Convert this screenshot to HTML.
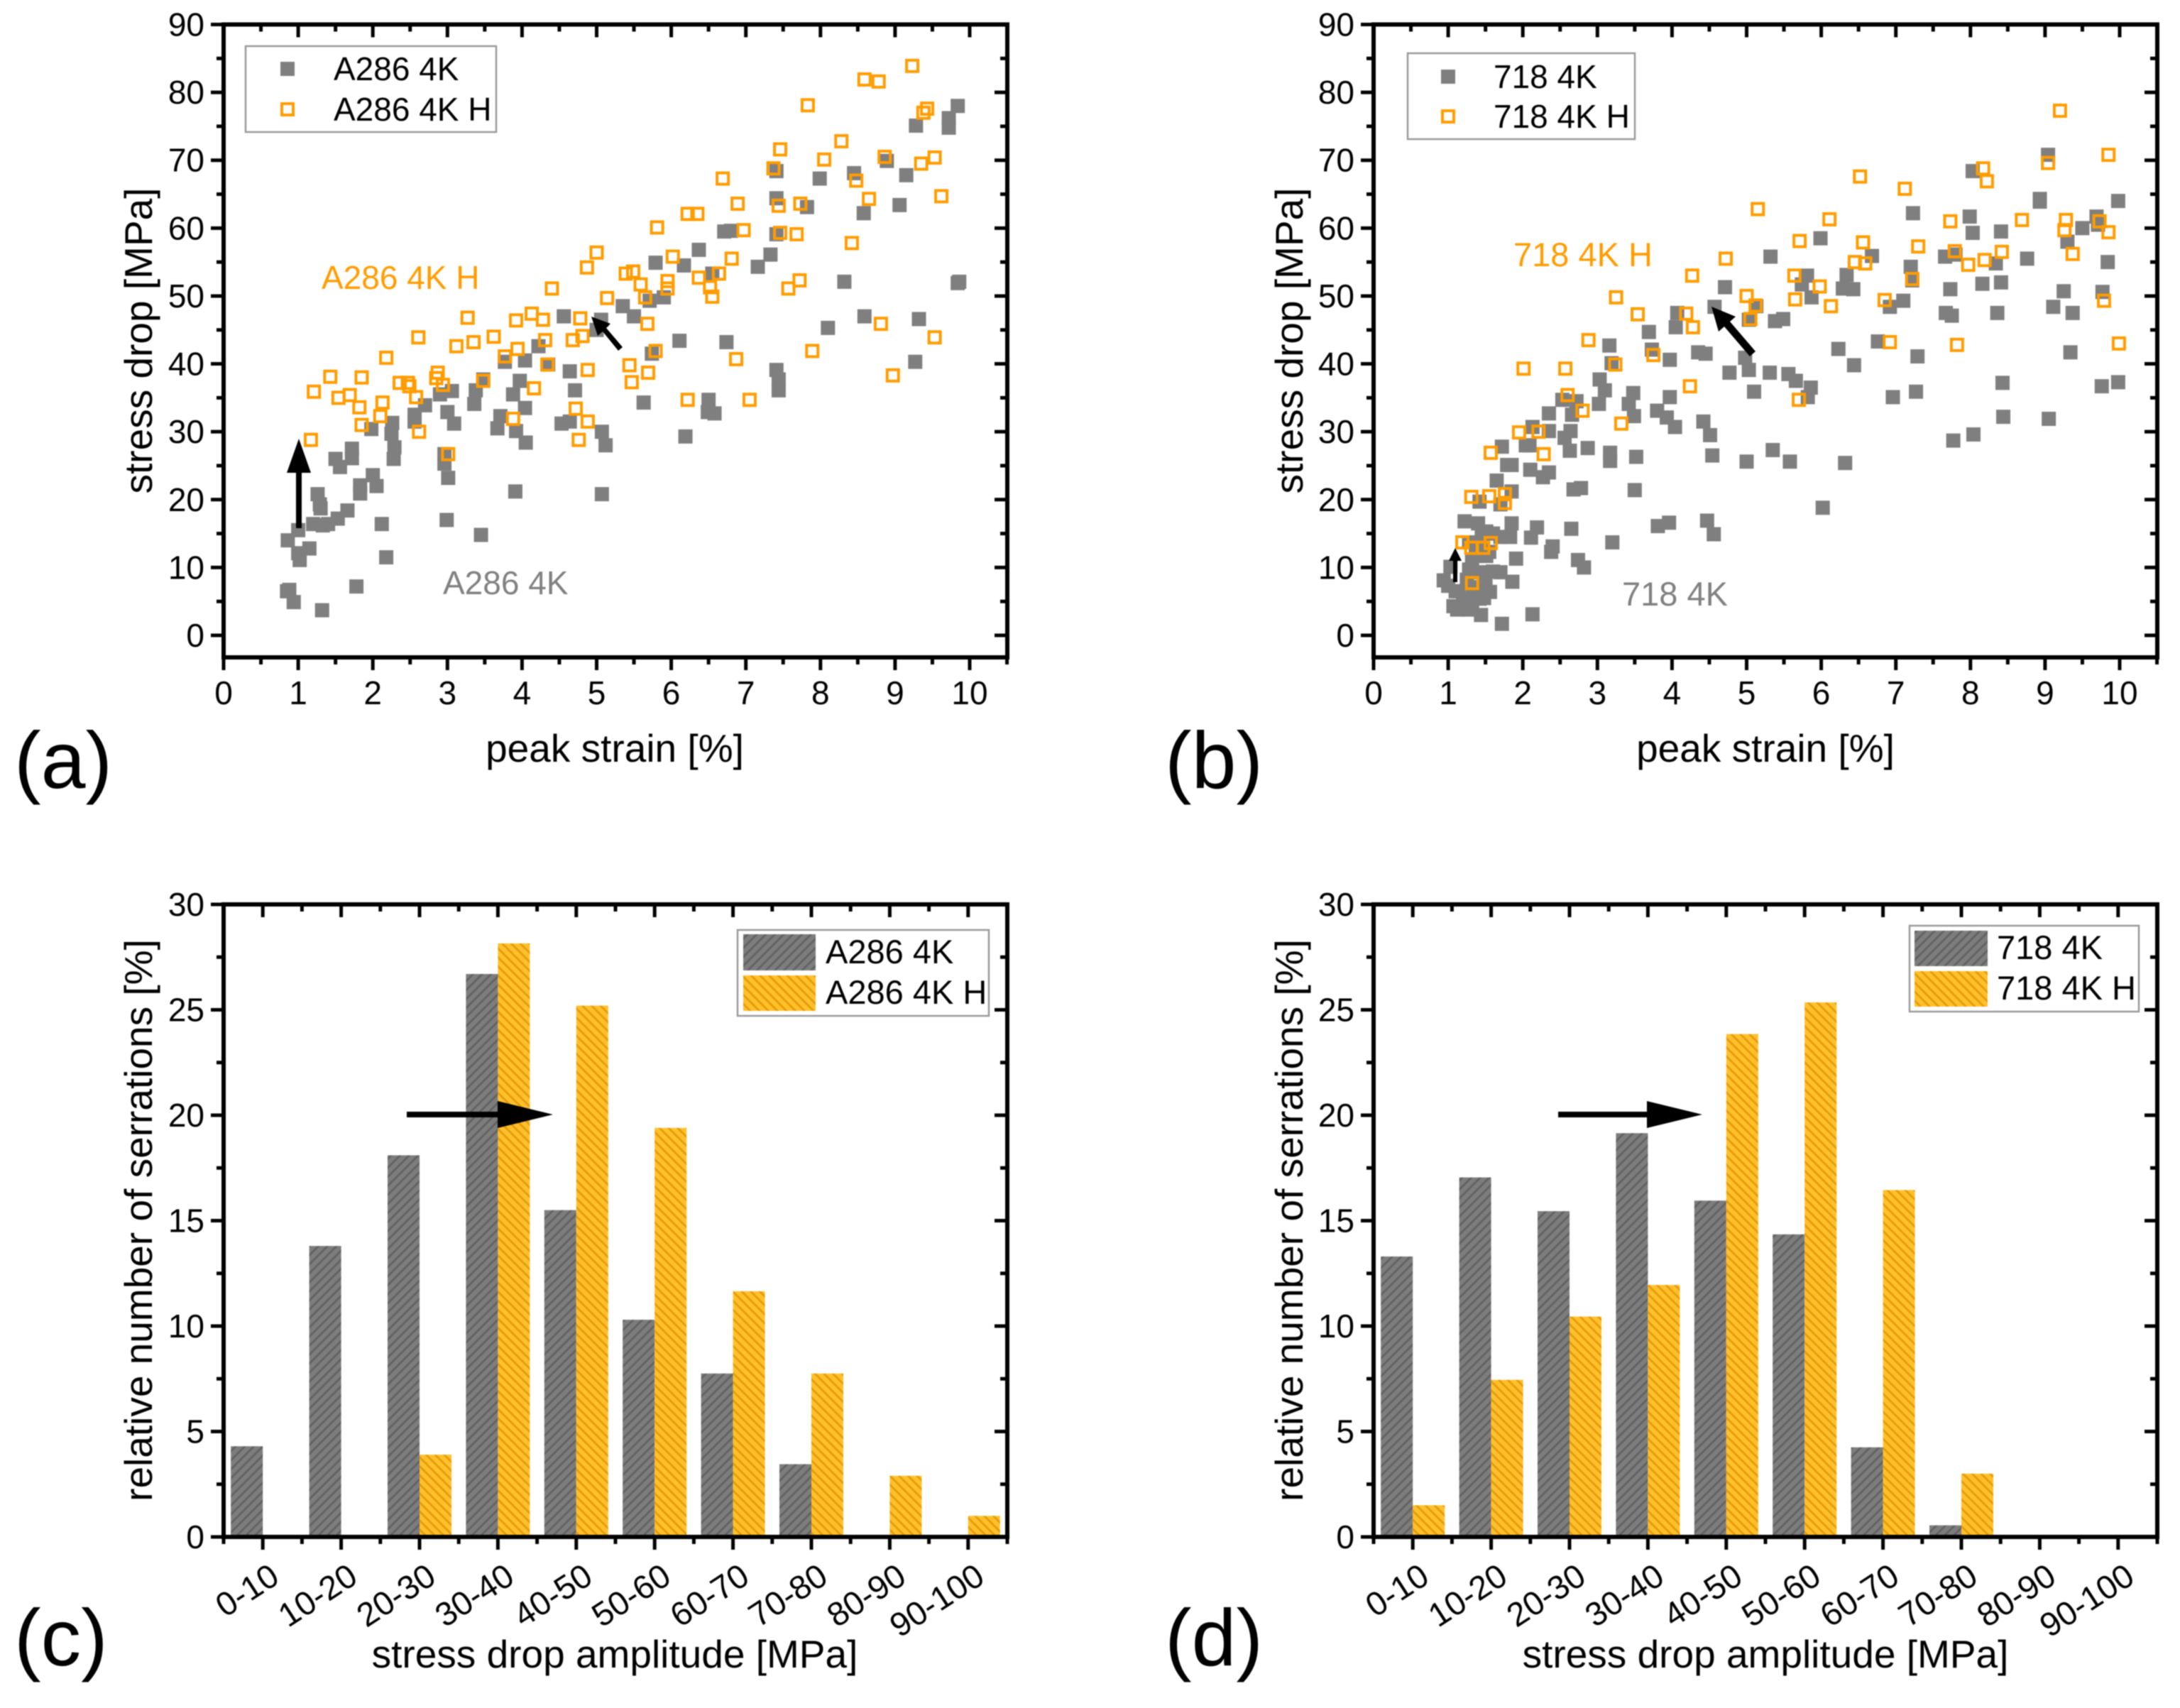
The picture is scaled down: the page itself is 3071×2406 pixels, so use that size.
<!DOCTYPE html>
<html lang="en">
<head>
<meta charset="utf-8">
<title>Stress drop versus peak strain and serration histograms</title>
<style>
html,body{margin:0;padding:0;background:#fff;}
#figure{display:block;width:3071px;height:2406px;filter:blur(0.7px);font-family:"Liberation Sans",sans-serif;}
</style>
</head>
<body>
<svg id="figure" xmlns="http://www.w3.org/2000/svg" width="3071" height="2406" viewBox="0 0 3071 2406">
<defs>
<pattern id="hatch-gray" patternUnits="userSpaceOnUse" width="9" height="9" patternTransform="rotate(45)">
<rect width="9" height="9" fill="#7d7d7d"/><rect width="3" height="9" fill="#636363"/>
</pattern>
<pattern id="hatch-orange" patternUnits="userSpaceOnUse" width="9" height="9" patternTransform="rotate(-45)">
<rect width="9" height="9" fill="#ffc12b"/><rect width="3" height="9" fill="#e89c0c"/>
</pattern>
</defs>
<rect width="3071" height="2406" fill="#fff"/>
<g id="panel-a"></g>
<g id="panel-b"></g>
<g id="panel-c"></g>
<g id="panel-d"></g>

<g font-size="55" fill="#000" text-anchor="middle">
<text x="866" y="1073">peak strain [%]</text>
<text x="2487" y="1073">peak strain [%]</text>
<text x="866" y="2349">stress drop amplitude [MPa]</text>
<text x="2487" y="2349">stress drop amplitude [MPa]</text>
<text transform="translate(214,480) rotate(-90)">stress drop [MPa]</text>
<text transform="translate(1835,480) rotate(-90)">stress drop [MPa]</text>
<text transform="translate(214,1719) rotate(-90)">relative number of serrations [%]</text>
<text transform="translate(1835,1719) rotate(-90)">relative number of serrations [%]</text>
</g>

<g font-size="113" fill="#000">
<text x="20" y="1110">(a)</text>
<text x="1641" y="1110">(b)</text>
<text x="20" y="2346">(c)</text>
<text x="1641" y="2346">(d)</text>
</g>

<g font-size="46">
<text x="453" y="407" fill="#ff9c00">A286 4K H</text>
<text x="624" y="837" fill="#808080">A286 4K</text>
<text x="2132" y="375" fill="#ff9c00" font-size="47">718 4K H</text>
<text x="2285" y="853" fill="#808080" font-size="47">718 4K</text>
</g>

<g>
<rect x="346" y="65" width="353" height="121" fill="#fff" stroke="#9a9a9a" stroke-width="2.5"/>
<rect x="395" y="87" width="20" height="20" fill="#7f7f7f"/>
<rect x="397" y="146" width="16" height="16" fill="#fff" stroke="#ff9c00" stroke-width="4"/>
<text x="470" y="113" font-size="46">A286 4K</text>
<text x="470" y="170" font-size="46">A286 4K H</text>
</g>
<g>
<rect x="1983" y="75" width="320" height="121" fill="#fff" stroke="#9a9a9a" stroke-width="2.5"/>
<rect x="2030" y="98" width="20" height="20" fill="#7f7f7f"/>
<rect x="2032" y="156" width="16" height="16" fill="#fff" stroke="#ff9c00" stroke-width="4"/>
<text x="2104" y="124" font-size="46">718 4K</text>
<text x="2104" y="180" font-size="46">718 4K H</text>
</g>
<g>
<rect x="1039" y="1310" width="354" height="121" fill="#fff" stroke="#9a9a9a" stroke-width="2.5"/>
<rect x="1047" y="1316" width="102" height="51" fill="url(#hatch-gray)"/>
<rect x="1047" y="1374" width="102" height="50" fill="url(#hatch-orange)"/>
<text x="1163" y="1357" font-size="47">A286 4K</text>
<text x="1163" y="1414" font-size="47">A286 4K H</text>
</g>
<g>
<rect x="2690" y="1304" width="323" height="121" fill="#fff" stroke="#9a9a9a" stroke-width="2.5"/>
<rect x="2697" y="1311" width="103" height="50" fill="url(#hatch-gray)"/>
<rect x="2697" y="1368" width="103" height="50" fill="url(#hatch-orange)"/>
<text x="2813" y="1351" font-size="47">718 4K</text>
<text x="2813" y="1408" font-size="47">718 4K H</text>
</g>

<g id="arrows" fill="#000" stroke="none">
<path d="M417,744 L417,666 L404,666 L421,618 L438,666 L425,666 L425,744 Z"/>
<path d="M871,494 L849,467 L842,473 L833,446 L860,456 L854,462 L877,489 Z"/>
<path d="M2047,820 L2047,790 L2041,790 L2050,772 L2059,790 L2053,790 L2053,820 Z"/>
<path d="M2465,502 L2429,460 L2421,467 L2411,432 L2445,446 L2437,453 L2473,495 Z"/>
<path d="M573,1566 L701,1566 L701,1551 L779,1570 L701,1589 L701,1574 L573,1574 Z"/>
<path d="M2195,1566 L2320,1566 L2320,1551 L2398,1570 L2320,1589 L2320,1574 L2195,1574 Z"/>
</g>
</svg>
<script>
const strainTicks = ["0","1","2","3","4","5","6","7","8","9","10"];
const dropTicks = ["0","10","20","30","40","50","60","70","80","90"];
const percentTicks = ["0","5","10","15","20","25","30"];
const amplitudeBins = ["0-10","10-20","20-30","30-40","40-50","50-60","60-70","70-80","80-90","90-100"];

const a286Points = [[.85,6.5],[.88,6.7],[.94,4.9],[1.32,3.7],[1.78,7.2],[2.18,11.5],[2.12,16.4],[.86,14],[1,15.5],[1,12.1],[1.02,11.1],[1.15,12.8],[1.2,16.4],[1.33,16.2],[1.4,16.4],[1.26,20.8],[1.29,19.3],[1.3,18.7],[1.53,17.2],[1.66,18.4],[1.5,26],[1.56,24.8],[1.72,27.5],[1.72,26.1],[1.83,22.1],[1.83,20.9],[2,23.6],[2.05,22],[1.98,30.4],[2.26,31.3],[2.25,29.7],[2.29,27.7],[2.28,26],[2.56,32.5],[2.56,31.5],[2.7,33.9],[2.9,35.5],[3.06,36],[3,32.9],[3.09,31.2],[2.96,26.7],[2.96,25.3],[3.01,23.2],[2.99,17],[3.45,14.8],[3.91,21.2],[5.07,20.8],[3.38,36.1],[3.36,34.1],[3.48,37.7],[3.77,40.3],[4.04,40.5],[3.97,37.5],[3.88,35.5],[4.04,33.5],[3.71,32.3],[3.67,30.5],[3.92,30.1],[4.05,28.4],[4.22,42.6],[4.35,39.9],[4.64,38.9],[4.71,36.1],[4.53,31.2],[4.64,31.5],[5.07,30],[5.12,28],[4.56,47],[5.06,46.5],[5,45],[5.35,48.5],[5.5,47],[5.71,49.3],[5.9,49.8],[5.79,54.9],[6.17,54.5],[6.37,56.8],[6.55,53.3],[5.74,41.5],[6.11,43.4],[5.63,34.3],[6.19,29.3],[6.5,34.7],[6.49,32.9],[6.58,32.7],[6.74,43.2],[6.71,59.5],[6.8,59.6],[7.16,54.3],[7.33,56.1],[7.41,59.1],[7.41,64.4],[7.41,68.4],[7.41,39.1],[7.44,37.7],[7.44,36.1],[7.82,63.1],[7.99,67.3],[8.1,45.3],[8.32,52.1],[8.45,68.1],[8.58,62.2],[8.59,47],[8.89,69.9],[9.06,63.4],[9.15,67.8],[9.28,75.1],[9.27,40.3],[9.32,46.6],[9.72,74.8],[9.72,76.2],[9.84,78],[9.84,51.9],[9.86,52.1]];
const a286HPoints = [[1.17,28.8],[1.21,35.9],[1.43,38.1],[1.54,35],[1.69,35.4],[1.82,33.6],[1.85,38],[1.85,31],[2.1,32.3],[2.13,34.3],[2.18,40.9],[2.36,37.2],[2.47,37.2],[2.49,36.7],[2.58,35.1],[2.62,30],[2.61,43.9],[2.87,38.7],[2.85,37.9],[2.94,36.9],[3.01,26.7],[3.12,42.6],[3.27,46.8],[3.35,43.2],[3.48,37.5],[3.62,44],[3.77,41.1],[3.88,31.9],[3.92,46.4],[3.94,42.2],[4.13,47.4],[4.16,36.4],[4.28,46.5],[4.31,43.5],[4.34,39.9],[4.4,51.1],[4.68,43.5],[4.72,33.4],[4.76,28.8],[4.78,46.7],[4.81,44.1],[4.87,54.2],[4.88,39.1],[4.88,31.5],[5,56.4],[5.14,49.7],[5.39,53.3],[5.49,53.6],[5.44,39.8],[5.47,37.3],[5.59,51.7],[5.65,49.8],[5.68,45.9],[5.69,38.7],[5.79,41.9],[5.81,60.1],[5.95,52.2],[5.95,51.1],[6.02,55.8],[6.22,62.1],[6.35,62.1],[6.22,34.7],[6.37,52.7],[6.52,51.3],[6.55,49.9],[6.64,53.3],[6.69,67.3],[6.81,55.5],[6.87,40.7],[6.89,63.6],[6.97,59.7],[7.05,34.7],[7.37,68.8],[7.44,63.3],[7.46,71.6],[7.46,59.3],[7.57,51.1],[7.68,59.1],[7.72,52.3],[7.73,63.6],[7.83,78.1],[7.89,41.9],[8.05,70.1],[8.28,72.8],[8.42,57.8],[8.48,67],[8.59,81.9],[8.65,64.3],[8.78,81.6],[8.81,45.9],[8.86,70.5],[8.97,38.3],[9.23,83.9],[9.35,69.5],[9.38,77],[9.43,77.6],[9.53,70.4],[9.53,43.9],[9.62,64.7]];
const in718Points = [[.94,8.1],[1.03,10.1],[1,7.3],[1.07,4.3],[1.12,3.8],[1.14,6.5],[1.22,16.8],[1.4,16.5],[1.42,19.7],[1.44,13.5],[1.51,15.3],[1.28,13.7],[1.37,11.7],[1.28,9.7],[1.32,10.9],[1.51,11.7],[1.42,9.3],[1.7,9.3],[1.56,6.4],[1.42,5.4],[1.32,4.5],[1.44,3],[1.28,3.8],[1.72,1.7],[2.13,3.1],[1.86,7.9],[1.91,11.3],[1.7,14.5],[1.83,14.5],[1.85,16.5],[2.11,14.4],[2.19,15.9],[2.38,12.3],[2.4,13.1],[2.65,15.7],[2.74,11.1],[2.82,10],[3.2,13.7],[3.81,16.1],[3.96,16.6],[4.47,16.9],[4.56,14.9],[6.02,18.8],[3.5,21.4],[2.68,21.5],[2.78,21.7],[1.85,21.2],[1.65,22.8],[1.7,19.3],[1.79,25.1],[1.85,25.1],[2.1,24.4],[2.27,23.3],[2.35,24],[1.72,27.8],[2.04,28],[2.09,28],[2.13,30.7],[2.35,30.1],[2.35,32.7],[2.56,29.1],[2.64,30.1],[2.63,27.2],[2.87,27.6],[2.66,32.5],[2.53,34.7],[2.72,34.5],[3.02,34.1],[3.03,37.7],[3.1,36.1],[3.16,42.7],[3.19,40.1],[3.17,26.9],[3.17,25.7],[3.52,26.3],[3.48,35.7],[3.42,34.1],[3.49,32.3],[3.69,44.7],[3.73,42.1],[3.8,33.1],[3.93,32.1],[4.04,30.7],[3.97,35.1],[3.97,40.6],[4.07,47.5],[4.05,45.4],[4.35,41.7],[4.45,41.5],[4.42,31.5],[4.51,29.5],[4.54,26.5],[4.57,48.4],[4.71,51.3],[4.77,38.7],[4.98,40.9],[5.03,39.1],[5,25.6],[5.1,35.9],[5.03,46.5],[5.13,48.5],[5.32,55.8],[5.38,46.3],[5.49,46.6],[5.31,38.7],[5.35,27.3],[5.58,25.6],[5.56,38.5],[5.66,37.5],[5.86,36.5],[5.82,35.1],[5.74,51.7],[5.81,53],[5.87,49.8],[5.99,58.5],[6.32,25.4],[6.23,42.2],[6.44,39.8],[6.29,51.1],[6.43,51],[6.34,53.1],[6.68,55.9],[6.76,43.3],[6.92,48.4],[6.96,35.1],[7.1,49.3],[7.2,54.3],[7.22,52.3],[7.23,62.2],[7.29,41.1],[7.27,35.9],[7.66,55.8],[7.67,47.5],[7.75,47.1],[7.73,51],[7.77,28.7],[7.8,56.1],[7.99,61.7],[8.03,59.3],[8.03,68.4],[8.04,29.6],[8.16,51.8],[8.34,54.8],[8.36,47.5],[8.41,52],[8.41,59.5],[8.43,37.2],[8.44,32.2],[8.76,55.5],[8.93,63.9],[8.93,64.3],[9.04,70.8],[9.05,31.9],[9.11,48.4],[9.25,50.7],[9.3,58],[9.34,41.7],[9.37,47.5],[9.5,60],[9.69,61.7],[9.71,60.5],[9.77,50.6],[9.76,36.7],[9.84,55],[9.98,64],[9.98,37.3],[1.25,8.2],[1.4,7.1],[1.5,8],[1.33,6.2],[1.55,12.3],[1.6,15],[1.45,15],[1.38,13],[1.1,6.5],[1.2,5.3],[1.48,5.5],[1.6,9.4]];
const in718HPoints = [[1.32,7.7],[1.19,13.7],[1.31,12.9],[1.47,12.9],[1.57,13.6],[1.31,20.4],[1.55,20.5],[1.76,20.8],[1.76,19.5],[1.57,26.9],[1.95,29.9],[2.21,30],[2.28,26.7],[2.01,39.3],[2.57,39.3],[2.6,35.4],[2.8,33.1],[2.88,43.5],[3.25,49.8],[3.24,39.9],[3.32,31.2],[3.54,47.3],[3.75,41.3],[4.19,47.4],[4.28,45.4],[4.27,53],[4.24,36.7],[4.72,55.5],[5,50],[5.05,46.6],[5.12,48.6],[5.15,62.8],[5.64,53],[5.65,49.5],[5.7,34.7],[5.71,58.1],[5.98,51.4],[6.13,48.5],[6.11,61.3],[6.45,55],[6.52,67.6],[6.56,57.9],[6.59,54.8],[6.85,49.4],[6.92,43.2],[7.12,65.8],[7.22,52.5],[7.3,57.3],[7.73,61],[7.79,56.6],[7.82,42.8],[7.97,54.6],[8.17,68.8],[8.19,55.3],[8.22,66.9],[8.42,56.5],[8.69,61.2],[9.04,69.6],[9.2,77.3],[9.26,59.7],[9.28,61.2],[9.37,56.2],[9.73,61],[9.79,49.3],[9.85,59.4],[9.85,70.8],[9.99,43]];

const a286Percent = [4.3,13.8,18.1,26.7,15.5,10.3,7.75,3.45,0,0];
const a286HPercent = [0,0,3.9,28.15,25.2,19.4,11.65,7.75,2.9,1];
const in718Percent = [13.3,17.05,15.45,19.15,15.95,14.35,4.25,.55,0,0];
const in718HPercent = [1.5,7.45,10.45,11.95,23.85,25.35,16.45,3,0,0];

const NS = 'http://www.w3.org/2000/svg';
function mk(parent, tag, attrs) {
  const el = document.createElementNS(NS, tag);
  for (const k in attrs) el.setAttribute(k, attrs[k]);
  parent.appendChild(el);
  return el;
}
function tick(parent, x1, y1, x2, y2, w) {
  const el = mk(parent, 'line', {x1: x1, y1: y1, x2: x2, y2: y2, stroke: '#000', 'stroke-width': w});
  
  
}
function drawFrame(g, left, right, top, bottom) {
  const el = mk(g, 'rect', {x: left, y: top, width: right - left, height: bottom - top, fill: 'none', stroke: '#000', 'stroke-width': 6});
  
  
}
function yAxis(g, yScale, labels, step, left, right) {
  labels.forEach(function (lab, i) {
    const v = i * step, y = yScale(v);
    tick(g, left - 18, y, left, y, 5);
    tick(g, right, y, right - 18, y, 5);
    const t = mk(g, 'text', {x: left - 27, y: y + 16, 'text-anchor': 'end', 'font-size': 46});
    
    
    t.textContent = lab;
    if (i < labels.length - 1) {
      const m = yScale(v + step / 2);
      tick(g, left - 10, m, left, m, 5);
      tick(g, right, m, right - 10, m, 5);
    }
  });
}
function scatterPanel(id, left, grayPts, orangePts) {
  const g = document.getElementById(id);
  const right = left + 1104, top = 34.5, bottom = 926;
  const xs = function (v) { return left + v * 105.1; };
  const ys = function (v) { return 895 - v * 9.561; };
  yAxis(g, ys, dropTicks, 10, left, right);
  strainTicks.forEach(function (lab, i) {
    const x = xs(i);
    tick(g, x, bottom, x, bottom + 18, 5);
    tick(g, x, top, x, top + 18, 5);
    const m = xs(i + .5);
    tick(g, m, bottom, m, bottom + 10, 5);
    tick(g, m, top, m, top + 10, 5);
    const t = mk(g, 'text', {x: x, y: 992, 'text-anchor': 'middle', 'font-size': 46});
    
    
    t.textContent = lab;
  });
  grayPts.forEach(function (p) {
    const r = mk(g, 'rect', {x: xs(p[0]) - 10, y: ys(p[1]) - 10, width: 20, height: 20, fill: '#7f7f7f'});
    
    
  });
  orangePts.forEach(function (p) {
    const r = mk(g, 'rect', {x: xs(p[0]) - 8, y: ys(p[1]) - 8, width: 16, height: 16, fill: 'none', stroke: '#ff9c00', 'stroke-width': 4});
    
    
  });
  drawFrame(g, left, right, top, bottom);
}
function barPanel(id, left, grayVals, orangeVals) {
  const g = document.getElementById(id);
  const right = left + 1104, top = 1274, bottom = 2165, band = 110.4, half = 45;
  const xs = function (i) { return left + band * (i + .5); };
  const ys = function (v) { return bottom - v * 29.7; };
  yAxis(g, ys, percentTicks, 5, left, right);
  grayVals.forEach(function (v, i) {
    if (v <= 0) return;
    const r = mk(g, 'rect', {x: xs(i) - half, y: ys(v), width: half, height: bottom - ys(v), fill: 'url(#hatch-gray)'});
    
    
  });
  orangeVals.forEach(function (v, i) {
    if (v <= 0) return;
    const r = mk(g, 'rect', {x: xs(i), y: ys(v), width: half, height: bottom - ys(v), fill: 'url(#hatch-orange)'});
    
    
  });
  amplitudeBins.forEach(function (lab, i) {
    const x = xs(i);
    tick(g, x, bottom, x, bottom + 18, 5);
    tick(g, x, top, x, top + 18, 5);
    tick(g, x - band / 2, bottom, x - band / 2, bottom + 10, 5);
    tick(g, x - band / 2, top, x - band / 2, top + 10, 5);
    const t = mk(g, 'text', {'text-anchor': 'end', 'font-size': 47, transform: 'translate(' + (x + 26) + ',' + 2228 + ') rotate(-33)'});
    
    
    t.textContent = lab;
  });
  tick(g, right, bottom, right, bottom + 10, 5);
  drawFrame(g, left, right, top, bottom);
}
scatterPanel('panel-a', 315, a286Points, a286HPoints);
scatterPanel('panel-b', 1935, in718Points, in718HPoints);
barPanel('panel-c', 315, a286Percent, a286HPercent);
barPanel('panel-d', 1935, in718Percent, in718HPercent);
</script>
</body>
</html>
